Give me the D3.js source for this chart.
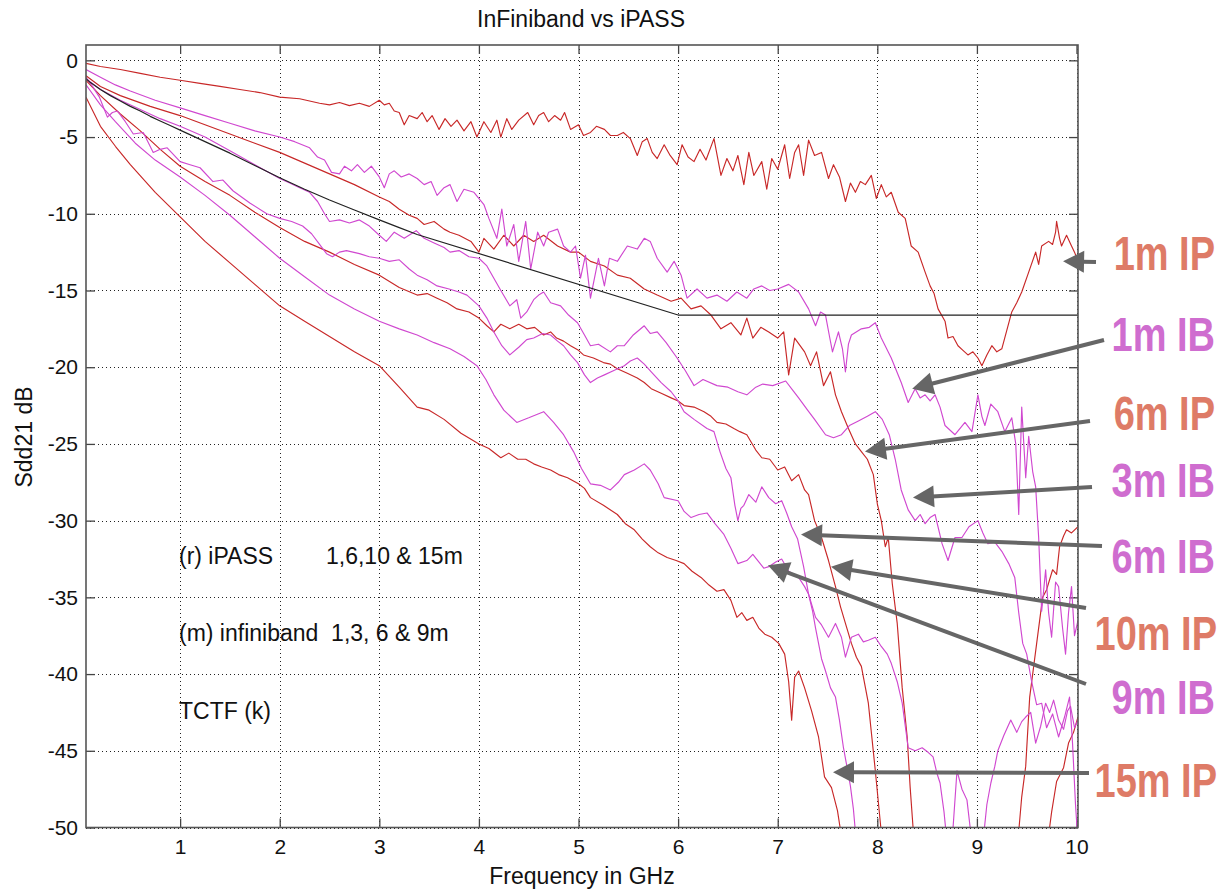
<!DOCTYPE html>
<html><head><meta charset="utf-8">
<script src="https://cdn.jsdelivr.net/npm/d3@7/dist/d3.min.js"></script>
<style>
body{margin:0;background:#fff}
text{font-family:"Liberation Sans",Arial,Helvetica,sans-serif}
</style>
</head><body>
<svg id="chart" width="1224" height="890"></svg>
<script>
// ---------- data ----------
const xTicks = [1,2,3,4,5,6,7,8,9,10];
const yTicks = [0,-5,-10,-15,-20,-25,-30,-35,-40,-45,-50];

const ip1 = [[0.055,-0.2],[0.2,-0.4],[0.4,-0.6],[0.6,-0.85],[0.8,-1.1],[1.0,-1.3],[1.2,-1.5],[1.4,-1.7],[1.6,-1.9],[1.8,-2.1],[2.0,-2.4],[2.2,-2.5],[2.4,-2.8],[2.5,-2.9],[2.6,-2.75],[2.7,-2.95],[2.8,-2.8],[2.9,-3.0],[3.0,-2.6],[3.05,-2.9],[3.1,-2.8],[3.15,-3.3],[3.2,-3.4],[3.25,-4.2],[3.3,-3.6],[3.38,-3.8],[3.43,-3.4],[3.48,-4.0],[3.53,-3.6],[3.6,-4.5],[3.66,-3.8],[3.72,-4.3],[3.78,-3.9],[3.85,-4.6],[3.92,-4.0],[3.98,-5.0],[4.05,-4.0],[4.12,-4.7],[4.18,-3.9],[4.22,-5.0],[4.28,-3.8],[4.33,-4.5],[4.4,-3.9],[4.49,-3.4],[4.55,-4.2],[4.6,-3.6],[4.65,-3.4],[4.7,-4.0],[4.76,-3.6],[4.82,-3.9],[4.86,-3.4],[4.92,-4.5],[5.0,-4.2],[5.05,-4.9],[5.12,-4.7],[5.18,-4.3],[5.26,-4.5],[5.32,-4.9],[5.39,-4.9],[5.45,-4.7],[5.52,-5.1],[5.59,-6.2],[5.64,-5.3],[5.69,-5.1],[5.74,-6.0],[5.79,-6.4],[5.86,-5.5],[5.92,-6.2],[5.99,-6.8],[6.04,-5.5],[6.1,-6.3],[6.16,-6.6],[6.22,-5.8],[6.28,-6.5],[6.36,-5.1],[6.43,-7.5],[6.49,-6.4],[6.55,-7.2],[6.6,-6.2],[6.66,-8.1],[6.71,-6.0],[6.76,-7.5],[6.84,-6.6],[6.89,-8.4],[6.94,-6.4],[7.0,-7.1],[7.07,-5.5],[7.12,-7.7],[7.17,-6.0],[7.21,-5.5],[7.26,-7.5],[7.31,-5.2],[7.37,-6.2],[7.44,-6.0],[7.51,-7.7],[7.56,-6.8],[7.62,-7.6],[7.68,-9.2],[7.73,-8.0],[7.78,-8.6],[7.83,-7.9],[7.88,-8.1],[7.94,-7.5],[7.99,-9.0],[8.04,-8.1],[8.09,-8.9],[8.14,-8.6],[8.21,-9.9],[8.28,-10.3],[8.34,-12.1],[8.41,-12.5],[8.48,-13.8],[8.53,-14.7],[8.57,-15.2],[8.61,-16.2],[8.68,-17.0],[8.71,-18.1],[8.76,-18.0],[8.81,-18.6],[8.86,-18.9],[8.91,-19.2],[8.96,-19.0],[9.01,-19.4],[9.05,-19.9],[9.1,-19.2],[9.15,-18.6],[9.2,-19.0],[9.25,-18.8],[9.3,-17.6],[9.35,-16.4],[9.4,-15.8],[9.45,-15.1],[9.52,-13.8],[9.59,-12.5],[9.62,-13.3],[9.65,-12.1],[9.72,-11.8],[9.76,-12.0],[9.79,-11.2],[9.8,-10.5],[9.83,-11.6],[9.85,-12.1],[9.9,-11.4],[9.95,-12.1],[9.98,-12.5],[10.015,-13.1]];

const ib1 = [[0.055,-0.6],[0.2,-1.1],[0.35,-1.6],[0.5,-2.0],[0.75,-2.6],[1.0,-3.1],[1.25,-3.6],[1.5,-4.1],[1.75,-4.6],[2.0,-5.0],[2.15,-5.3],[2.3,-5.7],[2.38,-6.3],[2.45,-6.5],[2.52,-7.3],[2.6,-7.4],[2.65,-6.9],[2.72,-7.2],[2.78,-6.8],[2.85,-7.3],[2.92,-6.9],[3.0,-7.6],[3.05,-8.3],[3.1,-7.4],[3.15,-7.2],[3.22,-7.6],[3.3,-7.4],[3.38,-7.7],[3.45,-8.1],[3.52,-7.9],[3.58,-8.8],[3.65,-8.3],[3.71,-8.1],[3.78,-9.2],[3.85,-8.4],[3.95,-8.6],[4.05,-9.4],[4.1,-10.3],[4.18,-11.6],[4.23,-9.7],[4.28,-12.1],[4.35,-10.7],[4.4,-13.1],[4.47,-10.5],[4.52,-13.6],[4.59,-11.2],[4.65,-12.1],[4.7,-11.2],[4.79,-11.0],[4.85,-12.1],[4.92,-12.5],[4.97,-12.1],[5.02,-14.2],[5.07,-12.7],[5.12,-15.5],[5.2,-12.9],[5.26,-14.7],[5.31,-12.9],[5.39,-13.1],[5.49,-12.1],[5.59,-12.3],[5.66,-11.6],[5.72,-11.8],[5.79,-12.9],[5.89,-13.8],[5.96,-13.1],[6.03,-14.0],[6.09,-15.5],[6.19,-14.9],[6.29,-15.5],[6.39,-15.3],[6.49,-15.7],[6.59,-15.1],[6.69,-15.5],[6.76,-14.9],[6.84,-14.7],[6.92,-15.0],[7.0,-14.9],[7.11,-14.6],[7.21,-15.1],[7.31,-16.2],[7.38,-17.3],[7.43,-16.4],[7.48,-16.6],[7.52,-18.0],[7.55,-19.0],[7.61,-17.7],[7.65,-18.8],[7.68,-20.3],[7.71,-18.5],[7.74,-17.9],[7.84,-17.5],[7.92,-17.4],[7.98,-17.1],[8.04,-18.1],[8.14,-19.4],[8.24,-21.0],[8.31,-22.3],[8.38,-21.4],[8.43,-22.0],[8.48,-21.8],[8.53,-22.2],[8.58,-21.8],[8.63,-22.6],[8.68,-23.8],[8.78,-24.4],[8.88,-23.6],[8.95,-24.2],[9.01,-21.8],[9.05,-23.2],[9.08,-23.8],[9.14,-22.4],[9.21,-22.9],[9.28,-24.2],[9.35,-23.3],[9.39,-25.0],[9.42,-29.6],[9.45,-22.6],[9.49,-27.2],[9.52,-24.5],[9.56,-26.8],[9.59,-27.8],[9.62,-31.1],[9.65,-35.9],[9.69,-33.2],[9.72,-36.0],[9.75,-37.6],[9.79,-34.0],[9.82,-34.3],[9.86,-37.0],[9.89,-38.7],[9.92,-36.0],[9.95,-34.3],[9.98,-37.5],[10.015,-36.5]];

const ip6 = [[0.055,-1.0],[0.2,-1.7],[0.4,-2.3],[0.7,-3.0],[1.0,-3.6],[1.25,-4.2],[1.5,-4.8],[1.75,-5.4],[2.0,-6.0],[2.25,-6.7],[2.5,-7.4],[2.75,-8.1],[3.0,-8.9],[3.1,-9.2],[3.2,-9.7],[3.3,-10.1],[3.38,-10.3],[3.45,-10.7],[3.55,-10.5],[3.65,-11.0],[3.71,-11.2],[3.8,-11.4],[3.92,-11.8],[4.0,-12.5],[4.05,-11.6],[4.15,-12.3],[4.25,-11.4],[4.35,-12.1],[4.45,-11.4],[4.55,-11.8],[4.65,-11.4],[4.79,-12.1],[4.92,-12.5],[5.0,-12.5],[5.12,-13.1],[5.26,-13.4],[5.39,-14.0],[5.52,-14.2],[5.66,-14.9],[5.79,-15.3],[5.93,-15.7],[6.03,-15.5],[6.13,-16.2],[6.23,-16.0],[6.33,-16.6],[6.43,-17.5],[6.53,-17.1],[6.63,-17.9],[6.69,-16.8],[6.75,-18.1],[6.83,-17.4],[6.91,-17.7],[7.0,-18.1],[7.06,-17.7],[7.11,-20.5],[7.17,-18.1],[7.27,-19.0],[7.33,-19.9],[7.39,-19.0],[7.46,-21.2],[7.53,-20.3],[7.58,-21.8],[7.64,-22.9],[7.71,-24.0],[7.78,-25.0],[7.84,-25.5],[7.9,-26.0],[7.96,-27.0],[8.0,-28.9],[8.04,-30.0],[8.08,-31.7],[8.11,-31.1],[8.15,-34.1],[8.2,-36.7],[8.25,-40.9],[8.3,-44.1],[8.33,-47.4],[8.37,-51],null,[9.41,-51],[9.45,-48],[9.49,-46],[9.53,-41.5],[9.57,-39.5],[9.6,-38],[9.63,-36.5],[9.66,-35],[9.7,-34.5],[9.76,-33.2],[9.8,-33.5],[9.83,-31.7],[9.87,-31.0],[9.9,-30.6],[9.95,-30.8],[10.015,-30.4]];

const ip10 = [[0.055,-1.3],[0.2,-2.3],[0.4,-3.5],[0.6,-4.6],[0.8,-5.8],[1.0,-6.9],[1.25,-7.9],[1.5,-8.8],[1.75,-9.9],[2.0,-10.9],[2.25,-11.8],[2.5,-12.5],[2.75,-13.3],[3.0,-14.0],[3.2,-14.8],[3.38,-15.3],[3.48,-15.2],[3.58,-15.5],[3.68,-15.8],[3.78,-16.2],[3.9,-16.4],[4.0,-16.8],[4.08,-17.3],[4.15,-17.7],[4.22,-17.2],[4.31,-17.5],[4.4,-17.2],[4.48,-17.5],[4.56,-17.4],[4.65,-17.9],[4.72,-17.7],[4.78,-18.1],[4.85,-18.3],[4.92,-18.6],[5.0,-18.9],[5.05,-19.2],[5.15,-19.4],[5.25,-19.7],[5.32,-19.8],[5.39,-20.1],[5.49,-20.4],[5.59,-20.7],[5.66,-21.0],[5.73,-21.4],[5.83,-21.7],[5.93,-22.0],[6.0,-22.2],[6.06,-22.5],[6.16,-22.6],[6.26,-22.9],[6.33,-23.2],[6.39,-23.6],[6.48,-23.7],[6.56,-24.0],[6.62,-24.2],[6.69,-24.4],[6.78,-25.4],[6.84,-25.9],[6.92,-26.0],[7.0,-26.7],[7.07,-26.5],[7.14,-27.4],[7.21,-27.0],[7.27,-28.0],[7.31,-28.3],[7.37,-30.0],[7.44,-31.1],[7.51,-32.6],[7.58,-34.3],[7.63,-35.6],[7.68,-36.7],[7.74,-38.0],[7.79,-38.9],[7.84,-39.5],[7.91,-41.9],[7.98,-46.3],[8.05,-51],null,[9.71,-51],[9.75,-49],[9.8,-47],[9.87,-46.1],[9.92,-44.5],[9.97,-43.8],[10.015,-42.8]];

const ip15 = [[0.055,-2.4],[0.2,-4.3],[0.35,-5.6],[0.5,-6.8],[0.75,-8.6],[1.0,-10.2],[1.25,-11.8],[1.5,-13.2],[1.75,-14.6],[2.0,-16.0],[2.25,-17.0],[2.5,-18.0],[2.75,-19.0],[3.0,-19.9],[3.2,-21.3],[3.38,-22.6],[3.5,-22.8],[3.65,-23.4],[3.82,-24.3],[4.0,-25.0],[4.1,-25.3],[4.22,-25.9],[4.3,-25.6],[4.39,-26.0],[4.47,-26.0],[4.55,-26.3],[4.63,-26.5],[4.72,-26.7],[4.8,-27.0],[4.89,-27.2],[5.0,-27.6],[5.06,-27.9],[5.12,-28.5],[5.25,-29.0],[5.39,-29.6],[5.47,-30.2],[5.56,-30.6],[5.64,-31.2],[5.72,-31.7],[5.8,-32.1],[5.89,-32.4],[5.98,-32.6],[6.06,-32.8],[6.14,-33.3],[6.23,-33.7],[6.31,-34.2],[6.39,-34.6],[6.46,-34.5],[6.53,-35.2],[6.59,-36.3],[6.64,-36.0],[6.69,-36.5],[6.75,-36.3],[6.81,-37.0],[6.87,-37.4],[6.94,-37.6],[7.01,-38.0],[7.07,-38.7],[7.11,-40.5],[7.14,-43.0],[7.17,-40.2],[7.21,-39.8],[7.27,-40.9],[7.34,-42.4],[7.41,-44.1],[7.47,-46.7],[7.54,-47.4],[7.6,-48.9],[7.65,-51]];

const ib3 = [[0.055,-1.2],[0.2,-1.9],[0.4,-2.6],[0.6,-3.2],[0.8,-3.8],[1.0,-4.3],[1.25,-5.0],[1.5,-5.9],[1.75,-6.8],[2.0,-7.7],[2.1,-8.0],[2.2,-8.3],[2.3,-8.6],[2.38,-9.2],[2.45,-10.0],[2.5,-10.5],[2.6,-10.4],[2.7,-10.6],[2.8,-10.4],[2.9,-10.8],[3.0,-11.4],[3.07,-11.8],[3.15,-11.2],[3.25,-11.6],[3.37,-11.1],[3.45,-11.6],[3.55,-11.9],[3.65,-12.2],[3.71,-12.5],[3.8,-12.4],[3.9,-12.8],[4.0,-12.9],[4.08,-13.4],[4.15,-14.2],[4.22,-15.0],[4.31,-16.0],[4.38,-15.6],[4.42,-16.8],[4.48,-16.4],[4.55,-15.6],[4.6,-15.3],[4.65,-15.1],[4.72,-15.8],[4.82,-16.0],[4.9,-16.6],[4.99,-17.1],[5.06,-17.9],[5.12,-18.6],[5.2,-18.5],[5.32,-19.0],[5.39,-18.6],[5.46,-18.6],[5.55,-17.9],[5.66,-17.3],[5.72,-17.8],[5.79,-17.7],[5.88,-18.4],[5.99,-19.4],[6.07,-20.2],[6.16,-21.2],[6.25,-20.8],[6.39,-21.2],[6.5,-21.3],[6.6,-21.6],[6.69,-21.8],[6.78,-21.3],[6.85,-21.1],[6.95,-21.2],[7.08,-20.9],[7.15,-21.5],[7.21,-22.0],[7.3,-22.8],[7.37,-23.4],[7.48,-24.4],[7.56,-24.6],[7.64,-24.4],[7.72,-23.8],[7.81,-23.5],[7.9,-23.2],[7.98,-22.9],[8.05,-23.4],[8.12,-24.4],[8.18,-26.0],[8.24,-28.0],[8.31,-29.3],[8.38,-30.0],[8.43,-29.6],[8.48,-30.2],[8.53,-29.8],[8.58,-29.6],[8.65,-31.5],[8.71,-32.6],[8.78,-31.1],[8.85,-31.1],[8.92,-30.4],[9.01,-30.0],[9.06,-30.8],[9.11,-31.5],[9.18,-31.4],[9.25,-32.0],[9.32,-32.8],[9.38,-33.7],[9.42,-36.0],[9.46,-38.0],[9.5,-38.7],[9.55,-40.5],[9.6,-42.0],[9.65,-41.9],[9.7,-43.5],[9.76,-42.6],[9.82,-44.1],[9.88,-42.8],[9.93,-41.5],[9.96,-44.5],[9.99,-48.5],[10.015,-51]];

const ib6 = [[0.055,-1.1],[0.12,-1.7],[0.19,-2.4],[0.27,-3.7],[0.32,-3.4],[0.37,-3.3],[0.45,-4.0],[0.53,-4.8],[0.63,-4.7],[0.73,-6.0],[0.8,-5.8],[0.87,-5.7],[1.0,-6.6],[1.1,-6.8],[1.2,-7.0],[1.33,-7.9],[1.43,-7.8],[1.53,-8.5],[1.7,-9.3],[1.87,-10.0],[2.0,-10.3],[2.12,-10.5],[2.23,-10.8],[2.32,-11.3],[2.4,-12.0],[2.47,-12.6],[2.53,-12.8],[2.6,-12.5],[2.67,-12.4],[2.8,-12.6],[2.9,-12.8],[3.0,-12.9],[3.1,-13.1],[3.2,-13.0],[3.3,-13.6],[3.38,-14.0],[3.48,-14.3],[3.58,-14.7],[3.7,-14.9],[3.8,-15.1],[3.88,-15.3],[4.0,-16.0],[4.08,-16.8],[4.15,-17.7],[4.23,-18.6],[4.31,-19.2],[4.4,-18.7],[4.48,-18.2],[4.55,-18.1],[4.64,-17.8],[4.72,-17.9],[4.79,-18.3],[4.85,-18.6],[4.92,-19.2],[4.99,-19.7],[5.06,-20.5],[5.12,-21.0],[5.19,-20.7],[5.26,-20.5],[5.36,-20.2],[5.46,-19.9],[5.52,-19.6],[5.59,-19.4],[5.66,-19.8],[5.73,-20.3],[5.83,-21.0],[5.93,-21.6],[6.0,-22.2],[6.06,-22.9],[6.16,-23.4],[6.29,-24.0],[6.36,-24.2],[6.42,-25.5],[6.48,-26.6],[6.53,-27.2],[6.57,-29.0],[6.6,-30.0],[6.63,-29.2],[6.66,-29.0],[6.71,-28.3],[6.78,-28.8],[6.84,-27.8],[6.91,-28.5],[6.98,-28.9],[7.04,-28.7],[7.09,-29.5],[7.14,-30.4],[7.2,-31.2],[7.26,-33.0],[7.31,-34.8],[7.38,-36.3],[7.44,-36.8],[7.51,-37.6],[7.58,-36.7],[7.64,-37.6],[7.68,-38.9],[7.74,-37.6],[7.81,-37.4],[7.86,-37.9],[7.91,-37.8],[7.98,-37.6],[8.04,-38.2],[8.1,-38.7],[8.14,-39.3],[8.2,-40.5],[8.25,-41.9],[8.31,-44.8],[8.38,-45.0],[8.45,-44.8],[8.51,-45.1],[8.56,-45.4],[8.6,-46.5],[8.63,-47.1],[8.67,-49.0],[8.7,-51],null,[8.75,-51],[8.8,-46.3],[8.85,-47.5],[8.9,-48.2],[8.95,-51],null,[9.06,-51],[9.1,-48.5],[9.14,-47.1],[9.18,-46.0],[9.21,-45.0],[9.27,-44.0],[9.34,-43.0],[9.4,-43.8],[9.45,-43.1],[9.49,-42.8],[9.54,-42.5],[9.59,-44.5],[9.64,-43.4],[9.69,-41.9],[9.73,-42.5],[9.77,-41.7],[9.82,-43.0],[9.87,-43.6],[9.91,-42.4],[9.94,-42.1],[9.98,-43.5],[10.015,-43.0]];

const ib9 = [[0.055,-1.6],[0.2,-2.9],[0.35,-4.0],[0.55,-5.4],[0.75,-6.5],[1.0,-7.6],[1.25,-8.8],[1.5,-10.1],[1.75,-11.5],[2.0,-12.9],[2.25,-14.1],[2.5,-15.3],[2.75,-16.2],[3.0,-17.0],[3.2,-17.5],[3.38,-17.9],[3.55,-18.4],[3.71,-18.8],[3.85,-19.3],[3.98,-19.9],[4.07,-20.8],[4.15,-21.8],[4.25,-22.8],[4.38,-23.6],[4.5,-23.3],[4.65,-22.9],[4.75,-23.6],[4.85,-24.4],[4.95,-25.5],[5.03,-26.6],[5.12,-27.6],[5.22,-27.7],[5.32,-28.0],[5.4,-27.5],[5.46,-27.0],[5.56,-26.7],[5.66,-26.3],[5.72,-26.7],[5.8,-27.6],[5.86,-28.5],[6.0,-28.7],[6.06,-29.4],[6.13,-29.8],[6.21,-29.6],[6.29,-29.5],[6.37,-30.2],[6.46,-30.9],[6.53,-31.8],[6.6,-32.8],[6.69,-32.6],[6.75,-32.2],[6.8,-32.6],[6.86,-33.1],[6.91,-33.0],[6.98,-32.7],[7.04,-32.5],[7.11,-33.3],[7.16,-33.5],[7.21,-33.7],[7.27,-34.3],[7.31,-34.8],[7.35,-35.9],[7.38,-37.0],[7.44,-39.0],[7.48,-39.8],[7.53,-40.9],[7.58,-41.5],[7.62,-43.0],[7.66,-44.8],[7.7,-46.2],[7.73,-47.3],[7.76,-48.8],[7.79,-51]];

const tctf = [[0.055,-1.2],[0.1,-1.45],[0.2,-1.9],[0.3,-2.3],[0.4,-2.65],[0.5,-3.0],[0.6,-3.3],[0.7,-3.65],[0.8,-3.95],[0.9,-4.25],[1.0,-4.55],[1.25,-5.3],[1.5,-6.05],[1.75,-6.85],[2.0,-7.65],[2.25,-8.4],[2.5,-9.1],[2.75,-9.75],[3.0,-10.4],[3.2,-10.9],[3.38,-11.35],[6.0,-16.6],[10.015,-16.6]];

const seriesNames = ["1m IP","6m IP","10m IP","15m IP","1m IB","3m IB","6m IB","9m IB","TCTF"];
const seriesData  = [ip1, ip6, ip10, ip15, ib1, ib3, ib6, ib9, tctf];
const seriesKind  = ["IP","IP","IP","IP","IB","IB","IB","IB","K"];

const noteLines = ["(r) iPASS", "1,6,10 & 15m", "(m) infiniband  1,3, 6 & 9m", "TCTF (k)"];

// callouts: label and the curve point the arrow points to (GHz, dB)
const calloutLabels = ["1m IP","1m IB","6m IP","3m IB","6m IB","10m IP","9m IB","15m IP"];
const calloutKinds  = ["IP","IB","IP","IB","IB","IP","IB","IP"];
const calloutTargets = [[9.865,-13.1],[8.35,-21.4],[7.876,-25.5],[8.358,-28.5],[7.234,-30.9],[7.535,-33.0],[6.902,-32.9],[7.555,-46.4]];

// ---------- layout / style ----------
const L = 86, R = 1078, T = 45, B = 827.5;
const lineColor = {IP:"#c82828", IB:"#d048d0", K:"#222"};
const labelColor = {IP:"#de7b67", IB:"#cf6dcf"};
const calloutTails = [[1096,262],[1104,340],[1090,421],[1092,487],[1102,546],[1086,608],[1086,684],[1089,773]];
const calloutText  = [[1215,270],[1215,351],[1215,430],[1215,497],[1215,573],[1217,650],[1215,714],[1217,797]];

const svg = d3.select("#chart");
const x = d3.scaleLinear().domain([0.055, 10.015]).range([L, R]);
const y = d3.scaleLinear().domain([-50, 1]).range([B, T]);

// grid
const grid = svg.append("g").attr("stroke","#222").attr("stroke-width",1).attr("stroke-dasharray","1,3");
grid.selectAll("line.gx").data(xTicks).join("line")
  .attr("x1",d=>Math.round(x(d))+0.5).attr("x2",d=>Math.round(x(d))+0.5).attr("y1",T).attr("y2",B);
grid.selectAll("line.gy").data(yTicks).join("line")
  .attr("y1",d=>Math.round(y(d))+0.5).attr("y2",d=>Math.round(y(d))+0.5).attr("x1",L).attr("x2",R);

// axes
const fontSize = 21;
const ax = svg.append("g").attr("transform",`translate(0,${B})`)
  .call(d3.axisBottom(x).tickValues(xTicks).tickSize(-9).tickPadding(12).tickFormat(d3.format("d")));
const axT = svg.append("g").attr("transform",`translate(0,${T})`)
  .call(d3.axisTop(x).tickValues(xTicks).tickSize(-9).tickFormat(""));
const ay = svg.append("g").attr("transform",`translate(${L},0)`)
  .call(d3.axisLeft(y).tickValues(yTicks).tickSize(-9).tickPadding(8).tickFormat(d3.format("d")));
const ayR = svg.append("g").attr("transform",`translate(${R},0)`)
  .call(d3.axisRight(y).tickValues(yTicks).tickSize(-9).tickFormat(""));
[ax,axT,ay,ayR].forEach(g=>{
  g.select(".domain").remove();
  g.selectAll(".tick line").attr("stroke","#444").attr("stroke-width",1.3);
  g.selectAll("text").attr("font-size",fontSize).attr("fill","#111")
    .attr("font-family",'"Liberation Sans",Arial,sans-serif');
});
ay.selectAll(".tick text").text(d=> d===0 ? "0" : d3.format("d")(d).replace("−","-"));

// clip
svg.append("clipPath").attr("id","plotclip").append("rect")
  .attr("x",L).attr("y",T).attr("width",R-L).attr("height",B-T);

const line = d3.line().defined(d=>d!==null).x(d=>x(d[0])).y(d=>y(d[1]));
const plot = svg.append("g").attr("clip-path","url(#plotclip)");
plot.selectAll("path.curve").data(seriesData).join("path")
  .attr("class","curve")
  .attr("fill","none")
  .attr("stroke",(d,i)=>lineColor[seriesKind[i]])
  .attr("stroke-width",(d,i)=>seriesKind[i]==="K"?1.2:1.15)
  .attr("stroke-linejoin","round")
  .attr("d",d=>line(d));

// box
svg.append("rect").attr("x",L).attr("y",T).attr("width",R-L).attr("height",B-T)
  .attr("fill","none").attr("stroke","#555").attr("stroke-width",1.6);

// titles
svg.append("text").attr("x",581).attr("y",27).attr("text-anchor","middle")
  .attr("font-size",23).attr("fill","#111").text("InFiniband vs iPASS");
svg.append("text").attr("x",582).attr("y",884).attr("text-anchor","middle")
  .attr("font-size",23).attr("fill","#111").text("Frequency in GHz");
svg.append("text").attr("transform","translate(32,437) rotate(-90)").attr("text-anchor","middle")
  .attr("font-size",23).attr("fill","#111").text("Sdd21 dB");

// notes inside plot
const notePos = [[179,564],[326,564],[179,641],[179,719]];
svg.selectAll("text.note").data(noteLines).join("text").attr("class","note")
  .attr("x",(d,i)=>notePos[i][0]).attr("y",(d,i)=>notePos[i][1])
  .attr("font-size",23).attr("fill","#111").style("white-space","pre").text(d=>d);

// callout arrows
const arrowG = svg.append("g");
calloutTargets.forEach((t,i)=>{
  const hx = x(t[0]), hy = y(t[1]);
  const [tx,ty] = calloutTails[i];
  const dx = hx-tx, dy = hy-ty, len = Math.hypot(dx,dy);
  const ux = dx/len, uy = dy/len;
  const headLen = 21, headW = 11;
  const bx = hx-ux*headLen, by = hy-uy*headLen;
  arrowG.append("line").attr("x1",tx).attr("y1",ty).attr("x2",bx+ux*2).attr("y2",by+uy*2)
    .attr("stroke","#666").attr("stroke-width",4);
  arrowG.append("path")
    .attr("d",`M${hx},${hy}L${bx-uy*headW},${by+ux*headW}L${bx+uy*headW},${by-ux*headW}Z`)
    .attr("fill","#666");
});

// callout labels (vertically stretched bold text)
svg.selectAll("text.callout").data(calloutLabels).join("text").attr("class","callout")
  .attr("transform",(d,i)=>`translate(${calloutText[i][0]},${calloutText[i][1]}) scale(1,1.27)`)
  .attr("text-anchor","end")
  .attr("font-size",38).attr("font-weight","bold")
  .attr("fill",(d,i)=>labelColor[calloutKinds[i]])
  .text(d=>d);
</script>
</body></html>
